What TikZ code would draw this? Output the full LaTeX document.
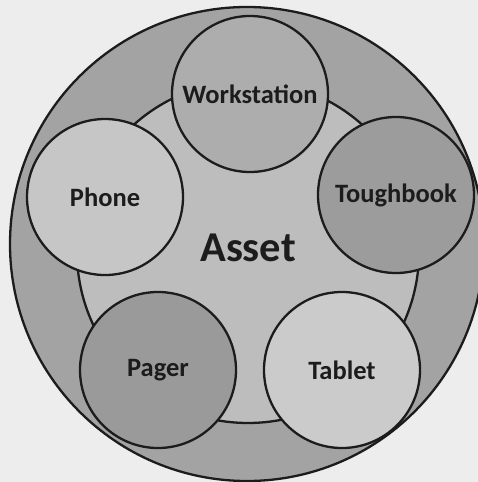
\documentclass[tikz,border=0pt]{standalone}
\usepackage{fontspec}
\setmainfont{Carlito}
\definecolor{bgc}{HTML}{EDEDED}
\definecolor{outerc}{HTML}{A3A3A3}
\definecolor{ringc}{HTML}{BDBDBD}
\definecolor{wsc}{HTML}{ADADAD}
\definecolor{phc}{HTML}{C6C6C6}
\definecolor{tbc}{HTML}{9C9C9C}
\definecolor{pgc}{HTML}{9A9A9A}
\definecolor{tac}{HTML}{CBCBCB}
\definecolor{inkc}{HTML}{1C1C1C}
\begin{document}
\begin{tikzpicture}[x=1pt,y=-1pt,
  edge/.style={draw=inkc,line width=2.3pt},
  item/.style={circle,edge,minimum size=156pt,inner sep=0pt,
    font=\fontsize{26.5}{30}\selectfont\bfseries,text=inkc}]
\useasboundingbox (0,0) rectangle (478,482);
\fill[bgc] (0,0) rectangle (478,482);
\begin{scope}
\clip (0,0) rectangle (478,482);
\draw[edge,fill=outerc] (247,244) circle[radius=237];
\end{scope}
\draw[edge,fill=ringc] (248,252) circle[radius=171];
\node[item,fill=wsc] (ws) at (250,94) {Workstation};
\node[item,fill=phc] (ph) at (105,197) {Phone};
\node[item,fill=tbc] (tb) at (396,195) {Toughbook};
\node[item,fill=pgc] (pg) at (158,370) {Pager};
\node[item,fill=tac] (ta) at (342,370) {Tablet};
\node[font=\fontsize{42.5}{48}\selectfont\bfseries,text=inkc] (asset) at (248,248) {Asset};
\end{tikzpicture}
\end{document}
